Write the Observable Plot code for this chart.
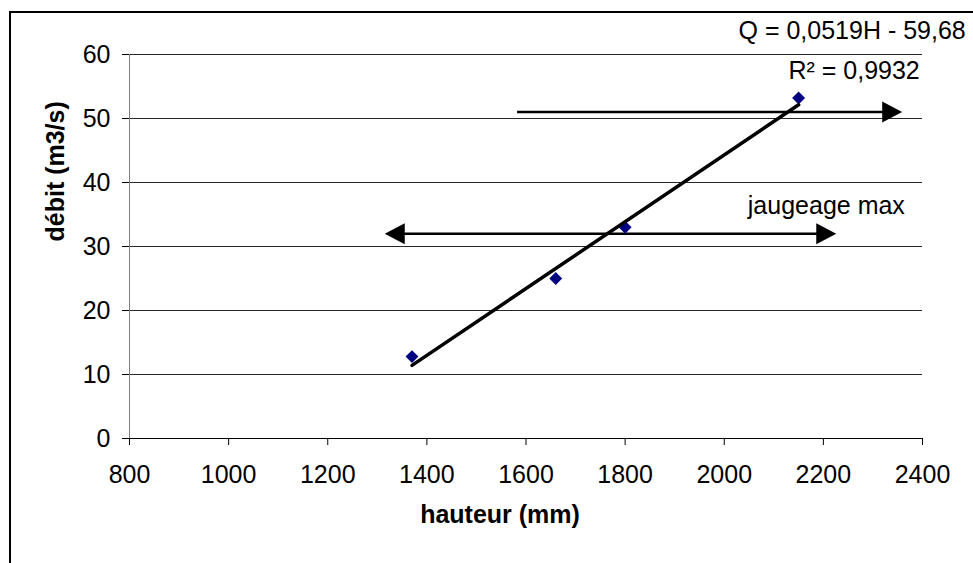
<!DOCTYPE html>
<html>
<head>
<meta charset="utf-8">
<script src="https://cdn.jsdelivr.net/npm/d3@7"></script>
<script src="https://cdn.jsdelivr.net/npm/@observablehq/plot@0.6"></script>
<style>
  html, body { margin: 0; padding: 0; background: #fff; overflow: hidden; }
  #wrap { position: relative; width: 973px; height: 563px; }
  #border { position: absolute; left: 9px; top: 11px; width: 1000px; height: 600px;
            border-left: 2px solid #000; border-top: 2px solid #000; pointer-events: none; }
</style>
</head>
<body>
<div id="wrap"><div id="chart"></div><div id="border"></div></div>
<script>
// ---- data ----
const hauteur = [1370, 1660, 1800, 2150];          // mm
const debit = [12.8, 25, 33, 53.2];                // m3/s
const xTicks = [800, 1000, 1200, 1400, 1600, 1800, 2000, 2200, 2400];
const yTicks = [0, 10, 20, 30, 40, 50, 60];
const xTitle = "hauteur (mm)";
const yTitle = "débit (m3/s)";
const equationLines = ["Q = 0,0519H - 59,68", "R² = 0,9932"];
const annotationLabel = "jaugeage max";
// arrows (data coordinates)
const arrowY = [51, 32];
const arrowFrom = [1583, 1315];
const arrowTo = [2359, 2226];
const arrowBoth = [false, true];

// ---- layout (annotation anchors in data space) ----
const equationAnchor = [{x: 2258, y: 63.6}, {x: 2262, y: 57.45}];
const annotationAnchor = {x: 2206, y: 36.3};

const points = hauteur.map((h, i) => ({h, q: debit[i]}));
const arrows = arrowY.map((y, i) => ({y, x1: arrowFrom[i], x2: arrowTo[i], both: arrowBoth[i]}));
const headsRight = arrows.map(a => ({x: a.x2, y: a.y}));
const headsLeft = arrows.filter(a => a.both).map(a => ({x: a.x1, y: a.y}));
const eqData = equationLines.map((t, i) => ({t, ...equationAnchor[i]}));

const triRight = {draw(ctx) { ctx.moveTo(0, 0); ctx.lineTo(-20, -10.5); ctx.lineTo(-20, 10.5); ctx.closePath(); }};
const triLeft = {draw(ctx) { ctx.moveTo(0, 0); ctx.lineTo(20, -10.5); ctx.lineTo(20, 10.5); ctx.closePath(); }};

const fontFamily = "'Liberation Sans', Arial, Helvetica, sans-serif";

const chart = Plot.plot({
  width: 973,
  height: 563,
  marginLeft: 129,
  marginRight: 51,
  marginTop: 54,
  marginBottom: 125,
  style: {fontSize: "25px", fontFamily, background: "white", color: "black", overflow: "visible"},
  x: {domain: [800, 2400], ticks: xTicks, tickFormat: d => String(d), tickSize: 7, tickPadding: 20, label: null},
  y: {domain: [0, 60], ticks: yTicks, tickFormat: d => String(d), tickSize: 7, tickPadding: 12, label: null},
  marks: [
    Plot.ruleY(yTicks.filter(d => d > 0), {stroke: "#000", strokeWidth: 1, strokeOpacity: 0.85}),
    Plot.ruleX([800], {y1: 0, y2: 60, stroke: "#808080", strokeWidth: 1}),
    Plot.ruleY([0], {stroke: "#000", strokeWidth: 1}),
    // arrows
    Plot.ruleY(arrows.filter(a => !a.both), {y: "y", x1: "x1", x2: "x2", stroke: "#000", strokeWidth: 2.5, insetRight: 12}),
    Plot.ruleY(arrows.filter(a => a.both), {y: "y", x1: "x1", x2: "x2", stroke: "#000", strokeWidth: 2.5, insetRight: 12, insetLeft: 12}),
    Plot.dot(headsRight, {x: "x", y: "y", symbol: triRight, fill: "#000", stroke: "none", r: 10}),
    Plot.dot(headsLeft, {x: "x", y: "y", symbol: triLeft, fill: "#000", stroke: "none", r: 10}),
    // data points
    Plot.dot(points, {x: "h", y: "q", symbol: "diamond2", fill: "#000080", stroke: "none", r: 5.8}),
    // trend line
    Plot.linearRegressionY(points, {x: "h", y: "q", stroke: "#000", strokeWidth: 3.5, ci: 0}),
    // annotations
    Plot.text(eqData, {x: "x", y: "y", text: "t", fill: "#000", textAnchor: "middle"}),
    Plot.text([annotationLabel], {x: annotationAnchor.x, y: annotationAnchor.y, fill: "#000", textAnchor: "middle"}),
    // axis titles
    Plot.text([xTitle], {frameAnchor: "bottom", dy: 84, dx: -26, fontWeight: "bold", fill: "#000"}),
    Plot.text([yTitle], {frameAnchor: "left", dx: -74, dy: -5, rotate: -90, fontWeight: "bold", fill: "#000"})
  ]
});
document.getElementById("chart").appendChild(chart);
</script>
</body>
</html>
